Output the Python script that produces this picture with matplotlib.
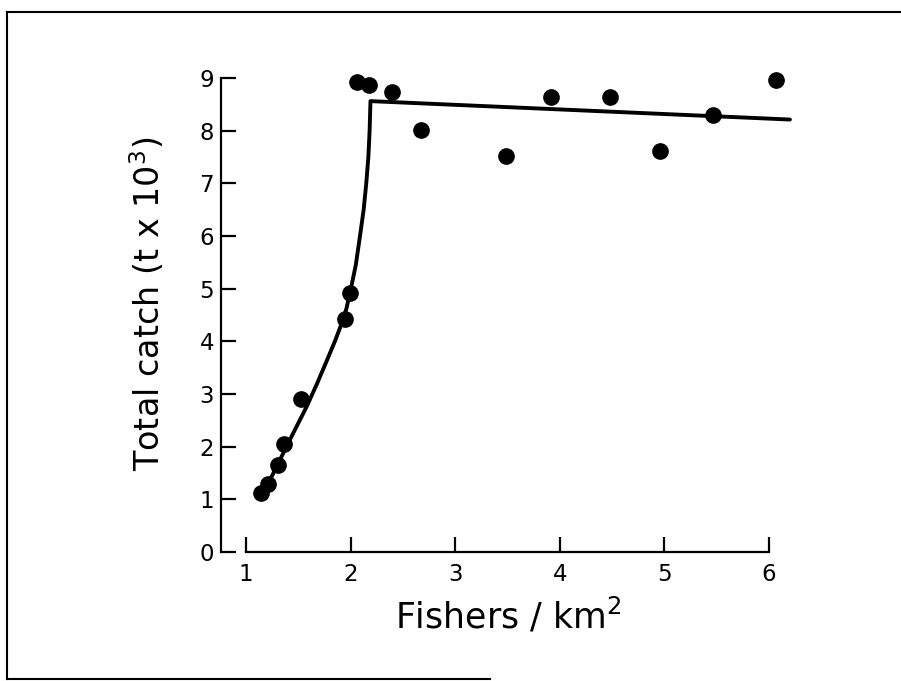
import matplotlib
matplotlib.use("Agg")
import matplotlib.pyplot as plt
from matplotlib.lines import Line2D

# ── Data ─────────────────────────────────────────────────────────────────────
fishers = [1.14, 1.21, 1.31, 1.36, 1.53, 1.95, 1.99, 2.06, 2.18, 2.40,
           2.67, 3.49, 3.92, 4.48, 4.96, 5.46, 6.07]
catch   = [1.12, 1.30, 1.65, 2.05, 2.90, 4.42, 4.92, 8.92, 8.86, 8.73,
           8.02, 7.52, 8.63, 8.63, 7.61, 8.29, 8.96]

# fitted curve (rising part, then near-flat plateau)
fit_x = [1.15, 1.25, 1.35, 1.45, 1.58, 1.68, 1.77, 1.85, 1.915, 1.96,
         2.00, 2.05, 2.09, 2.125, 2.15, 2.17, 2.182, 2.19, 6.20]
fit_y = [1.11, 1.45, 1.85, 2.25, 2.76, 3.20, 3.62, 4.00, 4.34, 4.62,
         4.97, 5.45, 6.00, 6.50, 7.00, 7.50, 8.00, 8.56, 8.21]

x_ticks = [1, 2, 3, 4, 5, 6]
y_ticks = [0, 1, 2, 3, 4, 5, 6, 7, 8, 9]

# ── Plot ─────────────────────────────────────────────────────────────────────
W, H = 901, 681
fig = plt.figure(figsize=(W / 100, H / 100), dpi=100)
ax = fig.add_axes([214.6 / W, (H - 552) / H, 606.7 / W, 500.4 / H])

ax.plot(fit_x, fit_y, color="black", lw=2.8, solid_joinstyle="round",
        solid_capstyle="round", zorder=2)
ax.plot(fishers, catch, "o", color="black", ms=11, zorder=3)

ax.set_xlim(0.7, 6.5)
ax.set_ylim(0, 9.5)

for s in ("top", "right"):
    ax.spines[s].set_visible(False)
ax.spines["left"].set_position(("data", 0.76))
ax.spines["left"].set_bounds(0, 9)
ax.spines["bottom"].set_bounds(1, 6)
for s in ("left", "bottom"):
    ax.spines[s].set_linewidth(1.6)

ax.set_xticks(x_ticks)
ax.set_yticks(y_ticks)
ax.tick_params(axis="both", direction="in", length=10.5, width=1.6,
               labelsize=16.5, color="black")
ax.tick_params(axis="x", pad=8)
ax.tick_params(axis="y", pad=5)

ax.set_xlabel("Fishers / km$^2$", fontsize=25)
ax.xaxis.set_label_coords(0.4836, -0.088)
ax.set_ylabel("Total catch (t x 10$^3$)", fontsize=24)
ax.yaxis.set_label_coords(-0.0785, 0.495)

# scanned page border
def px(x, y):
    return x / W, 1 - y / H

for (x0, y0), (x1, y1) in [((7, 12), (7, 679)), ((7, 12), (901, 12)),
                           ((7, 679), (490, 679))]:
    a, b = px(x0, y0)
    c, d = px(x1, y1)
    fig.add_artist(Line2D([a, c], [b, d], color="black", lw=1.5))

plt.savefig("out.png", dpi=100)
